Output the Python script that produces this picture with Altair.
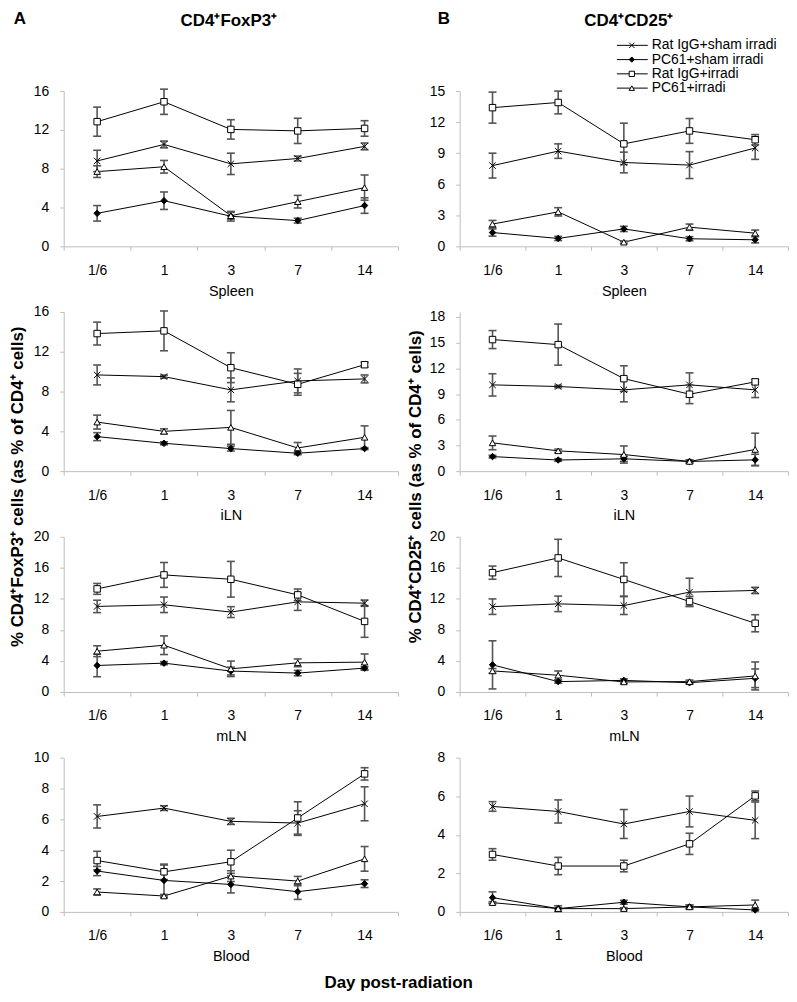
import altair as alt
import pandas as pd

FONT = "Liberation Sans"
DAYS = ["1/6", "1", "3", "7", "14"]
SERIES = ["Rat IgG+sham irradi", "PC61+sham irradi", "Rat IgG+irradi", "PC61+irradi"]

# ---- Panel A: CD4+FoxP3+ (order of rows follows SERIES) ----
A_SPLEEN_MEAN = [[8.8, 10.5, 8.5, 9.05, 10.3], [3.4, 4.7, 3.1, 2.65, 4.2],
                 [12.85, 14.9, 12.05, 11.9, 12.15], [7.7, 8.2, 3.15, 4.6, 6.05]]
A_SPLEEN_ERR = [[1.1, 0.35, 1.1, 0.25, 0.35], [0.8, 0.9, 0.5, 0.25, 0.8],
                [1.5, 1.3, 1.0, 1.3, 0.8], [0.6, 0.65, 0.35, 0.65, 1.3]]
A_ILN_MEAN = [[9.67, 9.5, 8.17, 9.07, 9.27], [3.47, 2.8, 2.27, 1.8, 2.27],
              [13.83, 14.1, 10.4, 8.73, 10.7], [4.93, 4.0, 4.4, 2.33, 3.4]]
A_ILN_ERR = [[1.0, 0.15, 1.2, 1.2, 0.4], [0.4, 0.15, 0.25, 0.15, 0.1],
             [1.15, 2.0, 1.5, 1.1, 0.25], [0.7, 0.25, 1.7, 0.55, 1.15]]
A_MLN_MEAN = [[11.03, 11.24, 10.3, 11.62, 11.45], [3.42, 3.72, 2.7, 2.44, 3.08],
              [13.29, 15.09, 14.53, 12.52, 9.1], [5.26, 6.03, 2.99, 3.76, 3.85]]
A_MLN_ERR = [[0.8, 1.0, 0.7, 1.1, 0.4], [1.45, 0.2, 0.5, 0.35, 0.2],
             [0.7, 1.6, 2.3, 0.75, 2.05], [0.7, 1.2, 1.0, 0.5, 1.05]]
A_BLOOD_MEAN = [[6.19, 6.73, 5.87, 5.76, 7.01], [2.65, 2.04, 1.78, 1.31, 1.83],
                [3.33, 2.6, 3.25, 6.09, 8.95], [1.29, 1.03, 2.32, 2.0, 3.44]]
A_BLOOD_ERR = [[0.75, 0.15, 0.2, 0.8, 1.1], [0.3, 1.0, 0.55, 0.5, 0.25],
               [0.6, 0.5, 0.75, 1.05, 0.4], [0.2, 0.1, 0.35, 0.3, 0.8]]

# ---- Panel B: CD4+CD25+ ----
B_SPLEEN_MEAN = [[7.8, 9.2, 8.1, 7.85, 9.5], [1.33, 0.76, 1.68, 0.73, 0.63],
                 [13.4, 13.9, 9.9, 11.15, 10.3], [2.15, 3.33, 0.4, 1.85, 1.27]]
B_SPLEEN_ERR = [[1.2, 0.7, 1.0, 1.3, 1.1], [0.35, 0.2, 0.25, 0.2, 0.3],
                [1.5, 1.1, 2.0, 1.2, 0.5], [0.35, 0.4, 0.1, 0.3, 0.3]]
B_ILN_MEAN = [[10.07, 9.88, 9.49, 10.07, 9.49], [1.7, 1.3, 1.44, 1.13, 1.32],
              [15.36, 14.77, 10.8, 8.98, 10.42], [3.3, 2.37, 1.94, 1.13, 2.53]]
B_ILN_ERR = [[1.3, 0.15, 1.4, 1.4, 0.9], [0.15, 0.15, 0.3, 0.2, 0.65],
             [1.05, 2.4, 1.5, 1.1, 0.3], [0.8, 0.2, 1.0, 0.15, 1.9]]
B_MLN_MEAN = [[11.0, 11.36, 11.14, 12.87, 13.09], [3.5, 1.34, 1.5, 1.2, 1.77],
              [15.38, 17.28, 14.51, 11.66, 8.86], [2.72, 2.16, 1.3, 1.34, 2.07]]
B_MLN_ERR = [[1.0, 1.0, 1.15, 1.8, 0.4], [3.1, 0.2, 0.2, 0.2, 1.2],
             [0.85, 2.4, 2.15, 0.65, 1.1], [0.3, 0.55, 0.2, 0.2, 1.8]]
B_BLOOD_MEAN = [[5.47, 5.21, 4.56, 5.21, 4.75], [0.74, 0.17, 0.5, 0.26, 0.1],
                [2.98, 2.38, 2.38, 3.53, 6.02], [0.48, 0.17, 0.17, 0.26, 0.36]]
B_BLOOD_ERR = [[0.25, 0.6, 0.75, 0.8, 0.95], [0.3, 0.15, 0.1, 0.1, 0.05],
               [0.3, 0.45, 0.3, 0.55, 0.25], [0.05, 0.05, 0.05, 0.1, 0.25]]

TISSUES = ["Spleen", "iLN", "mLN", "Blood"]
A_TICKS = [[0, 4, 8, 12, 16], [0, 4, 8, 12, 16], [0, 4, 8, 12, 16, 20], [0, 2, 4, 6, 8, 10]]
B_TICKS = [[0, 3, 6, 9, 12, 15], [0, 3, 6, 9, 12, 15, 18], [0, 4, 8, 12, 16, 20], [0, 2, 4, 6, 8]]

XPATH = "M-1,-1L1,1M-1,1L1,-1"
SHAPE_SCALE = alt.Scale(domain=SERIES, range=[XPATH, "diamond", "square", "triangle-up"])
FILL_SCALE = alt.Scale(domain=SERIES, range=["transparent", "black", "white", "white"])
SIZE_SCALE = alt.Scale(domain=SERIES, range=[42, 42, 36, 44])

AXIS_GRAY = "#bdbdbd"
ERR_GRAY = "#555555"


def panel(means, errs, tissue, ticks, width, height, dom_max, header=None, letter=None,
          header_x=0, legend=False):
    rows = []
    for s, ml, el in zip(SERIES, means, errs):
        for i, (d, m, e) in enumerate(zip(DAYS, ml, el)):
            rows.append({"series": s, "day": d, "idx": i, "mean": m,
                         "lo": max(m - e, 0), "hi": m + e})
    df = pd.DataFrame(rows)

    x = alt.X("day:N", sort=DAYS, bandPosition=0.5,
              scale=alt.Scale(type="band", domain=DAYS, paddingInner=0, paddingOuter=0),
              axis=alt.Axis(title=tissue, tickBand="extent", labelAngle=0, tickSize=4,
                            labelPadding=13, titlePadding=7, labelFontSize=14,
                            titleFontSize=14.5, titleFontWeight="normal",
                            domainColor=AXIS_GRAY, tickColor=AXIS_GRAY,
                            labelColor="black", titleColor="black", grid=False))
    ysc = alt.Scale(domain=[0, dom_max], nice=False, zero=True)
    yax = alt.Axis(values=ticks, title=None, tickSize=4, labelPadding=11, labelFontSize=14,
                   domainColor=AXIS_GRAY, tickColor=AXIS_GRAY, labelColor="black", grid=False,
                   minExtent=30)

    base = alt.Chart(df)
    lines = base.mark_line(color="black", strokeWidth=1).encode(
        x=x, y=alt.Y("mean:Q", scale=ysc, axis=yax), detail="series:N", order="idx:Q")
    rules = base.mark_rule(color=ERR_GRAY, strokeWidth=1.6).encode(
        x=x, y=alt.Y("lo:Q", scale=ysc, axis=yax), y2="hi:Q")
    cap_hi = base.mark_tick(color=ERR_GRAY, size=8, thickness=1.6, opacity=1).encode(
        x=x, y=alt.Y("hi:Q", scale=ysc, axis=yax))
    cap_lo = base.mark_tick(color=ERR_GRAY, size=8, thickness=1.6, opacity=1).encode(
        x=x, y=alt.Y("lo:Q", scale=ysc, axis=yax))
    pts = base.mark_point(opacity=1, stroke="black", strokeWidth=1, filled=False).encode(
        x=x, y=alt.Y("mean:Q", scale=ysc, axis=yax),
        shape=alt.Shape("series:N", scale=SHAPE_SCALE, legend=None),
        fill=alt.Fill("series:N", scale=FILL_SCALE, legend=None),
        size=alt.Size("series:N", scale=SIZE_SCALE, legend=None))

    layers = [lines, rules, cap_hi, cap_lo, pts]
    one = alt.Data(values=[{"k": 1}])
    if header:
        layers.append(alt.Chart(one).mark_text(
            text=header, font=FONT, fontSize=17, fontWeight="bold", align="center",
            baseline="middle", color="black").encode(x=alt.value(header_x), y=alt.value(-70)))
    if letter:
        layers.append(alt.Chart(one).mark_text(
            text=letter[0], font=FONT, fontSize=17, fontWeight="bold", align="center",
            baseline="middle", color="black").encode(x=alt.value(letter[1]), y=alt.value(-72)))
    data_layer = alt.layer(*layers)

    if legend:
        ldf = pd.DataFrame({"series": SERIES})
        ly = alt.Y("series:N", sort=SERIES, axis=None,
                   scale=alt.Scale(type="point", domain=SERIES, range=[-46, -3], padding=0))
        lbase = alt.Chart(ldf)
        lrule = lbase.mark_rule(color="black", strokeWidth=1).encode(
            y=ly, x=alt.value(158), x2=alt.value(189))
        lpts = lbase.mark_point(opacity=1, stroke="black", strokeWidth=1, filled=False).encode(
            y=ly, x=alt.value(173),
            shape=alt.Shape("series:N", scale=SHAPE_SCALE, legend=None),
            fill=alt.Fill("series:N", scale=FILL_SCALE, legend=None),
            size=alt.value(28))
        ltxt = lbase.mark_text(align="left", baseline="middle", fontSize=14, font=FONT,
                               color="black").encode(y=ly, x=alt.value(193), text="series:N")
        leg = alt.layer(lrule, lpts, ltxt)
        ch = alt.layer(data_layer, leg).resolve_scale(y="independent")
    else:
        ch = data_layer
    return ch.properties(width=width, height=height)


A_MEANS = [A_SPLEEN_MEAN, A_ILN_MEAN, A_MLN_MEAN, A_BLOOD_MEAN]
A_ERRS = [A_SPLEEN_ERR, A_ILN_ERR, A_MLN_ERR, A_BLOOD_ERR]
B_MEANS = [B_SPLEEN_MEAN, B_ILN_MEAN, B_MLN_MEAN, B_BLOOD_MEAN]
B_ERRS = [B_SPLEEN_ERR, B_ILN_ERR, B_MLN_ERR, B_BLOOD_ERR]

A_HEIGHTS = [156, 160, 156, 155]
B_HEIGHTS = [156, 160, 156, 155]
B_DOMMAX = [15, 18 * 160 / 155, 20, 8]

a_panels = []
for i in range(4):
    a_panels.append(panel(A_MEANS[i], A_ERRS[i], TISSUES[i], A_TICKS[i], 336, A_HEIGHTS[i],
                          A_TICKS[i][-1],
                          header="CD4\u207aFoxP3\u207a" if i == 0 else None,
                          letter=("A", -44) if i == 0 else None, header_x=166))
b_panels = []
for i in range(4):
    b_panels.append(panel(B_MEANS[i], B_ERRS[i], TISSUES[i], B_TICKS[i], 330, B_HEIGHTS[i],
                          B_DOMMAX[i],
                          header="CD4\u207aCD25\u207a" if i == 0 else None,
                          letter=("B", -16) if i == 0 else None, header_x=170,
                          legend=(i == 0)))

ytitle = dict(orient="left", anchor="middle", fontSize=17, fontWeight="bold", font=FONT,
              color="black")
colA = alt.vconcat(*a_panels, spacing=66, bounds="flush",
                   title=alt.TitleParams("% CD4\u207aFoxP3\u207a cells (as % of CD4\u207a cells)",
                                         offset=-13, **ytitle)
                   ).resolve_scale(x="independent", y="independent")
colB = alt.vconcat(*b_panels, spacing=66, bounds="flush",
                   title=alt.TitleParams("% CD4\u207aCD25\u207a cells (as % of CD4\u207a cells)",
                                         offset=4, **ytitle)
                   ).resolve_scale(x="independent", y="independent")

chart = alt.hconcat(
    colA, colB, spacing=8,
    title=alt.TitleParams("Day post-radiation", orient="bottom", anchor="middle", fontSize=17,
                          fontWeight="bold", font=FONT, offset=12, color="black"),
).resolve_scale(x="independent", y="independent").properties(
    padding=0, background="white"
).configure_view(strokeWidth=0).configure_axis(
    labelFont=FONT, titleFont=FONT
).configure_text(font=FONT)

chart.save("out.html", embed_options={"renderer": "svg", "actions": False})
